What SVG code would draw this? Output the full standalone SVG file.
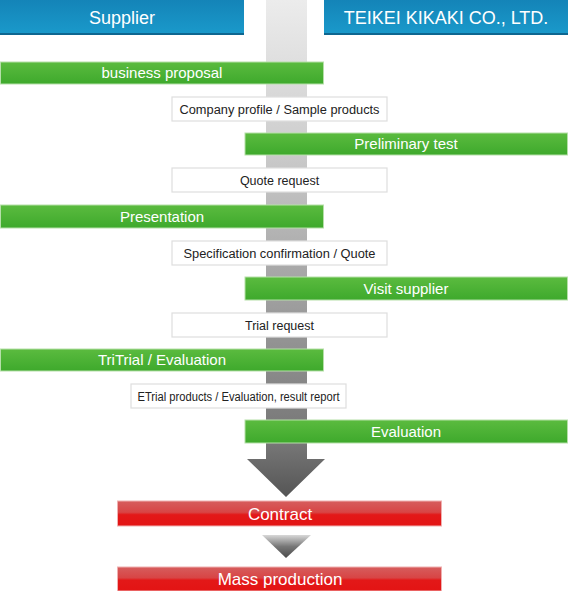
<svg xmlns="http://www.w3.org/2000/svg" width="568" height="591" viewBox="0 0 568 591">
<defs>
<linearGradient id="gBlue" x1="0" y1="0" x2="0" y2="1">
<stop offset="0" stop-color="#1484b8"/><stop offset="1" stop-color="#1a9acb"/>
</linearGradient>
<linearGradient id="gGreen" x1="0" y1="0" x2="0" y2="1">
<stop offset="0" stop-color="#5bbb3f"/><stop offset="1" stop-color="#3ea92c"/>
</linearGradient>
<linearGradient id="gRed" x1="0" y1="0" x2="0" y2="1">
<stop offset="0" stop-color="#d65d5d"/><stop offset="0.45" stop-color="#d84545"/><stop offset="0.55" stop-color="#e31818"/><stop offset="1" stop-color="#e31414"/>
</linearGradient>
<linearGradient id="gBar" gradientUnits="userSpaceOnUse" x1="0" y1="0" x2="0" y2="460">
<stop offset="0" stop-color="#ececec"/><stop offset="0.3" stop-color="#cfcfcf"/><stop offset="0.6" stop-color="#a6a6a6"/><stop offset="1" stop-color="#707070"/>
</linearGradient>
<linearGradient id="gBig" gradientUnits="userSpaceOnUse" x1="0" y1="443" x2="0" y2="497">
<stop offset="0" stop-color="#777777"/><stop offset="1" stop-color="#555555"/>
</linearGradient>
<linearGradient id="gSmall" gradientUnits="userSpaceOnUse" x1="0" y1="535" x2="0" y2="558">
<stop offset="0" stop-color="#d8d8d8"/><stop offset="0.5" stop-color="#777777"/><stop offset="1" stop-color="#4a4a4a"/>
</linearGradient>
</defs>
<style>
.hdr{fill:url(#gBlue)}
.hline{fill:#0e6690}
.grn{fill:url(#gGreen);stroke:#b5dfa8;stroke-width:1}
.red{fill:url(#gRed);stroke:#f0b0b0;stroke-width:1}
.box{fill:#ffffff;stroke:#dedede;stroke-width:1.2}
.wt{fill:#ffffff;font-family:"Liberation Sans",Arial,sans-serif;text-anchor:middle}
.bt{fill:#222222;font-family:"Liberation Sans",Arial,sans-serif;font-size:12.5px;text-anchor:middle}
.h{font-size:18px}
.g{font-size:15px}
.r{font-size:17px}
</style>
<g id="connectors">
<rect x="266" y="0" width="41" height="460" fill="url(#gBar)"/>
<path d="M266,443 H307 V459 H325 L286,497 L247,459 H266 Z" fill="url(#gBig)"/>
<path d="M262,535 H311 L286,558 Z" fill="url(#gSmall)"/>
</g>
<g id="supplier">
<rect class="hdr" x="0" y="0" width="244" height="35"/>
<rect class="hline" x="0" y="33" width="244" height="2"/>
<text class="wt h" x="122" y="24">Supplier</text>
</g>
<g id="teikei">
<rect class="hdr" x="324" y="0" width="244" height="35"/>
<rect class="hline" x="324" y="33" width="244" height="2"/>
<text class="wt h" x="446" y="24">TEIKEI KIKAKI CO., LTD.</text>
</g>
<g id="business-proposal">
<rect class="grn" x="0.5" y="62" width="323" height="22"/>
<text class="wt g" x="162" y="78">business proposal</text>
</g>
<g id="company-profile">
<rect class="box" x="172" y="97" width="215" height="24"/>
<text class="bt" x="279.5" y="113.5" textLength="200" lengthAdjust="spacingAndGlyphs">Company profile / Sample products</text>
</g>
<g id="preliminary-test">
<rect class="grn" x="245" y="133" width="322.5" height="22"/>
<text class="wt g" x="406" y="149">Preliminary test</text>
</g>
<g id="quote-request">
<rect class="box" x="172" y="168" width="215" height="24"/>
<text class="bt" x="279.5" y="184.5">Quote request</text>
</g>
<g id="presentation">
<rect class="grn" x="0.5" y="205" width="323" height="23"/>
<text class="wt g" x="162" y="221.5">Presentation</text>
</g>
<g id="spec-confirmation">
<rect class="box" x="172" y="241" width="215" height="24"/>
<text class="bt" x="279.5" y="257.5" textLength="192" lengthAdjust="spacingAndGlyphs">Specification confirmation / Quote</text>
</g>
<g id="visit-supplier">
<rect class="grn" x="245" y="277" width="322.5" height="23"/>
<text class="wt g" x="406" y="293.5">Visit supplier</text>
</g>
<g id="trial-request">
<rect class="box" x="172" y="313" width="215" height="24"/>
<text class="bt" x="279.5" y="329.5">Trial request</text>
</g>
<g id="trial-evaluation">
<rect class="grn" x="0.5" y="349" width="323" height="22"/>
<text class="wt g" x="162" y="365">TriTrial / Evaluation</text>
</g>
<g id="trial-products">
<rect class="box" x="131" y="384" width="215" height="24"/>
<text class="bt" x="238.5" y="400.5" textLength="202" lengthAdjust="spacingAndGlyphs">ETrial products / Evaluation, result report</text>
</g>
<g id="evaluation">
<rect class="grn" x="245" y="420" width="322.5" height="23"/>
<text class="wt g" x="406" y="436.5">Evaluation</text>
</g>
<g id="contract">
<rect class="red" x="117.5" y="501" width="324" height="25"/>
<text class="wt r" x="280" y="519.5">Contract</text>
</g>
<g id="mass-production">
<rect class="red" x="117.5" y="567" width="324" height="24"/>
<text class="wt r" x="280" y="585">Mass production</text>
</g>
</svg>
